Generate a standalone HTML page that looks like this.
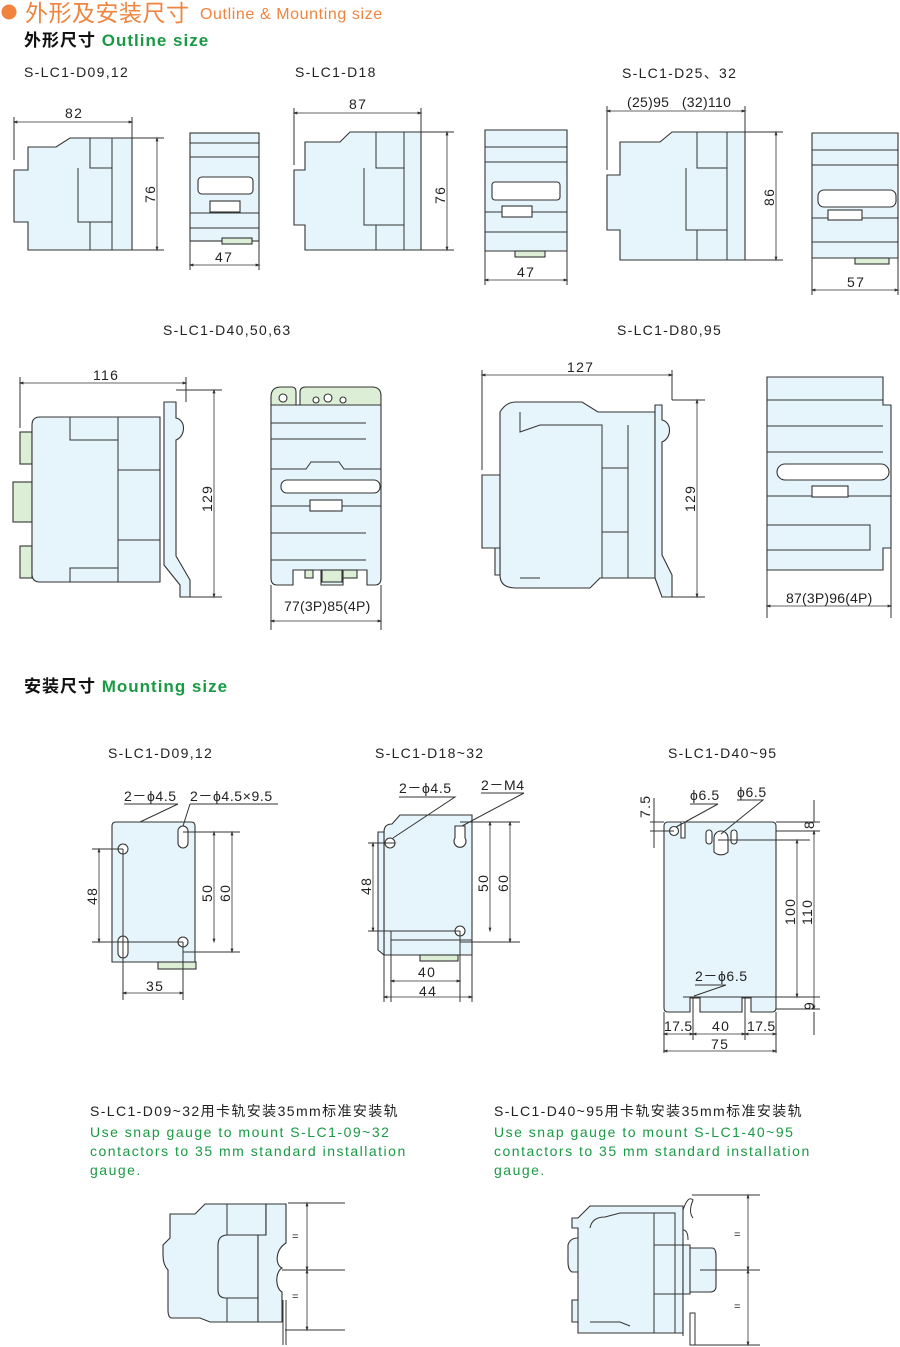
<!DOCTYPE html>
<html><head><meta charset="utf-8"><style>
html,body{margin:0;padding:0;background:#fff;width:900px;height:1347px;overflow:hidden}
svg{display:block}
text{font-family:"Liberation Sans","Noto Sans CJK SC",sans-serif;fill:#222}
.b{fill:#e6f5fc;stroke:#333;stroke-width:1.1}
.g{fill:#dcefd6;stroke:#333;stroke-width:1.1}
.w{fill:#fff;stroke:#333;stroke-width:1.1}
.l{fill:none;stroke:#333;stroke-width:1}
.d{fill:none;stroke:#333;stroke-width:0.8;marker-start:url(#a);marker-end:url(#a)}
.t{font-size:14px;letter-spacing:1.3px}
.p{font-size:14px;fill:#1a9a45;letter-spacing:1.5px}
</style></head><body>
<svg width="900" height="1347" viewBox="0 0 900 1347">
<defs><marker id="a" viewBox="0 0 10 10" refX="5" refY="5" markerWidth="6" markerHeight="6" orient="auto-start-reverse"><path d="M0,2 L10,5 L0,8 z" fill="#333"/></marker></defs>
<circle cx="9" cy="12" r="7.5" fill="#f0843e"/>
<text x="25" y="21" font-size="23" style="fill:#f0843e;letter-spacing:0.5px">外形及安装尺寸</text>
<text x="200" y="19" font-size="16" style="fill:#f0843e;letter-spacing:0.6px">Outline &amp; Mounting size</text>
<text x="24" y="46" font-size="17" font-weight="bold" style="fill:#111;letter-spacing:1px">外形尺寸 <tspan style="fill:#1a9a45">Outline size</tspan></text>
<text x="24" y="77" class="t">S-LC1-D09,12</text>
<text x="295" y="77" class="t">S-LC1-D18</text>
<text x="622" y="78" class="t">S-LC1-D25、32</text>
<text x="163" y="335" class="t">S-LC1-D40,50,63</text>
<text x="617" y="335" class="t">S-LC1-D80,95</text>

<!-- D09 side -->
<path class="b" d="M14,170 L28,170 L28,147 L56,147 L70,138 L132,138 L132,250 L28,250 L28,222 L14,222 Z"/>
<path class="l" d="M90,138 V168 H112 V138 M78,168 V222 H112 V250 M90,250 V222 M112,168 V222"/>
<line class="l" x1="14" y1="117" x2="14" y2="160"/><line class="l" x1="132" y1="117" x2="132" y2="138"/>
<line class="d" x1="15" y1="122" x2="131" y2="122"/><text x="65" y="118" class="t">82</text>
<line class="l" x1="132" y1="138" x2="164" y2="138"/><line class="l" x1="132" y1="250" x2="164" y2="250"/>
<line class="d" x1="157" y1="139" x2="157" y2="249"/><text x="155" y="203" class="t" transform="rotate(-90 155 203)">76</text>
<!-- D09 front -->
<rect class="b" x="190" y="133" width="69" height="108"/>
<path class="l" d="M190,143 H259 M190,157 H259 M190,228 H259 M190,213 H259"/>
<rect class="w" x="198" y="177" width="55" height="17" rx="4"/><rect class="w" x="210" y="201" width="30" height="11"/>
<rect class="g" x="222" y="238" width="30" height="6"/>
<line class="l" x1="190" y1="241" x2="190" y2="270"/><line class="l" x1="259" y1="241" x2="259" y2="270"/>
<line class="d" x1="191" y1="265" x2="258" y2="265"/><text x="215" y="262" class="t">47</text>

<!-- D18 side -->
<path class="b" d="M294,170 L305,170 L305,142 L340,142 L350,132 L421,132 L421,250 L305,250 L305,225 L294,225 Z"/>
<path class="l" d="M376,132 V168 H404 V132 M364,168 V225 H404 V250 M376,250 V225 M404,168 V225"/>
<line class="l" x1="294" y1="108" x2="294" y2="165"/><line class="l" x1="421" y1="108" x2="421" y2="132"/>
<line class="d" x1="295" y1="113" x2="420" y2="113"/><text x="349" y="109" class="t">87</text>
<line class="l" x1="421" y1="132" x2="454" y2="132"/><line class="l" x1="421" y1="250" x2="454" y2="250"/>
<line class="d" x1="447" y1="133" x2="447" y2="249"/><text x="445" y="204" class="t" transform="rotate(-90 445 204)">76</text>
<!-- D18 front -->
<path class="b" d="M485,130 H567 V251 H485 Z"/>
<path class="l" d="M485,147 H567 M485,162 H567 M485,232 H567 M485,212 H567"/>
<rect class="w" x="492" y="182" width="68" height="18" rx="3"/><rect class="w" x="502" y="206" width="30" height="11"/>
<rect class="g" x="515" y="251" width="30" height="6"/>
<line class="l" x1="485" y1="251" x2="485" y2="285"/><line class="l" x1="567" y1="251" x2="567" y2="285"/>
<line class="d" x1="486" y1="280" x2="566" y2="280"/><text x="517" y="277" class="t">47</text>

<!-- D25 side -->
<path class="b" d="M607,175 L620,175 L620,142 L660,142 L672,132 L745,132 L745,260 L620,260 L620,230 L607,230 Z"/>
<path class="l" d="M697,132 V168 H727 V132 M686,168 V230 H727 V260 M697,260 V230 M727,168 V230"/>
<line class="l" x1="607" y1="106" x2="607" y2="170"/><line class="l" x1="745" y1="106" x2="745" y2="132"/>
<line class="d" x1="608" y1="111" x2="744" y2="111"/><text x="627" y="107" class="t" style="letter-spacing:0.3px">(25)95&#160;&#160;&#160;(32)110</text>
<line class="l" x1="745" y1="132" x2="783" y2="132"/><line class="l" x1="745" y1="260" x2="783" y2="260"/>
<line class="d" x1="776" y1="133" x2="776" y2="259"/><text x="774" y="206" class="t" transform="rotate(-90 774 206)">86</text>
<!-- D25 front -->
<path class="b" d="M812,133 H898 V258 H812 Z"/>
<path class="l" d="M812,150 H898 M812,165 H898 M812,242 H898 M812,218 H898"/>
<rect class="w" x="818" y="190" width="78" height="17" rx="6"/><rect class="w" x="828" y="210" width="34" height="10"/>
<rect class="g" x="855" y="258" width="34" height="6"/>
<line class="l" x1="812" y1="258" x2="812" y2="295"/><line class="l" x1="898" y1="258" x2="898" y2="295"/>
<line class="d" x1="813" y1="290" x2="897" y2="290"/><text x="847" y="287" class="t">57</text>

<!-- D40 side -->
<rect class="g" x="20" y="432" width="12" height="32"/><rect class="g" x="13" y="482" width="19" height="40"/><rect class="g" x="20" y="546" width="12" height="32"/>
<path class="b" d="M32,425 Q32,417 40,417 L160,417 L160,582 L40,582 Q32,582 32,574 Z"/>
<path class="l" d="M70,417 V440 H118 V417 M118,440 V470 H160 M118,470 V540 H160 M118,540 V582 M70,582 V568 H118"/>
<path class="b" d="M164,402 L176,402 L176,418 C186,420 186,436 176,440 L176,556 L190,580 L190,597 L180,597 L180,585 L164,565 Z"/>
<line class="l" x1="20" y1="377" x2="20" y2="428"/><line class="l" x1="186" y1="377" x2="186" y2="402"/>
<line class="d" x1="21" y1="383" x2="185" y2="383"/><text x="93" y="380" class="t">116</text>
<line class="l" x1="176" y1="390" x2="222" y2="390"/><line class="l" x1="190" y1="597" x2="222" y2="597"/>
<line class="d" x1="214" y1="391" x2="214" y2="596"/><text x="212" y="512" class="t" transform="rotate(-90 212 512)">129</text>
<!-- D40 front -->
<path class="g" d="M271,397 Q271,387 281,387 L292,387 Q296,387 296,392 L296,405 L300,405 L300,392 Q300,387 306,387 L372,387 Q381,387 381,396 L381,405 L271,405 Z"/>
<circle class="w" cx="283" cy="398" r="4"/><circle class="w" cx="316" cy="400" r="3"/><circle class="w" cx="328" cy="398" r="4"/><circle class="w" cx="343" cy="400" r="3"/>
<path class="b" d="M271,405 H381 V578 Q381,585 375,585 L367,585 V570 H343 V585 H321 V570 H293 V585 H277 Q271,585 271,578 Z"/>
<path class="l" d="M271,423 H366 M271,439 H366 M271,469 H306 L311,462 H339 L344,469 H381 M271,506 H381 M271,533 H366 M271,560 H366"/>
<rect class="w" x="281" y="480" width="99" height="13" rx="6"/><rect class="w" x="310" y="500" width="32" height="11"/>
<rect class="g" x="305" y="570" width="8" height="8"/><rect class="g" x="322" y="570" width="20" height="12"/><rect class="g" x="343" y="570" width="14" height="8"/>
<line class="l" x1="271" y1="585" x2="271" y2="630"/><line class="l" x1="381" y1="585" x2="381" y2="630"/>
<line class="d" x1="272" y1="621" x2="380" y2="621"/><text x="284" y="611" class="t" style="letter-spacing:0.2px">77(3P)85(4P)</text>

<!-- D80 side -->
<path class="b" d="M482,475 H500 V548 H482 Z"/>
<path class="b" d="M500,412 Q506,402 516,402 L582,402 L598,412 L655,412 L655,578 L600,578 L590,588 L516,588 Q500,588 500,575 Z"/>
<path class="b" d="M495,548 H500 V575 H495 Z"/>
<path class="l" d="M520,412 V432 L540,425 H602 V578 M602,425 V468 H628 V425 M602,468 V532 H628 V468 M602,532 V578 M628,532 V578 M540,578 H520"/>
<path class="b" d="M655,405 L662,405 L662,420 C672,422 672,438 662,442 L662,555 L672,575 L672,597 L662,597 L655,578 Z"/>
<line class="l" x1="482" y1="370" x2="482" y2="470"/><line class="l" x1="672" y1="370" x2="672" y2="400"/>
<line class="d" x1="483" y1="375" x2="671" y2="375"/><text x="567" y="372" class="t">127</text>
<line class="l" x1="672" y1="400" x2="705" y2="400"/><line class="l" x1="672" y1="597" x2="705" y2="597"/>
<line class="d" x1="697" y1="401" x2="697" y2="596"/><text x="695" y="512" class="t" transform="rotate(-90 695 512)">129</text>
<!-- D80 front -->
<path class="b" d="M767,377 H883 V405 H891 V548 H883 V570 H767 Z"/>
<path class="l" d="M767,400 H883 M767,426 H883 M767,452 H883 M767,496 H891 M767,525 H870 V550 H767"/>
<rect class="w" x="777" y="464" width="112" height="16" rx="8"/><rect class="w" x="812" y="486" width="36" height="11"/>
<line class="l" x1="767" y1="570" x2="767" y2="618"/><line class="l" x1="891" y1="548" x2="891" y2="618"/>
<line class="d" x1="768" y1="606" x2="890" y2="606"/><text x="786" y="603" class="t" style="letter-spacing:0.2px">87(3P)96(4P)</text>

<text x="24" y="692" font-size="17" font-weight="bold" style="fill:#111;letter-spacing:1px">安装尺寸 <tspan style="fill:#1a9a45">Mounting size</tspan></text>
<text x="108" y="758" class="t">S-LC1-D09,12</text>
<text x="375" y="758" class="t">S-LC1-D18~32</text>
<text x="668" y="758" class="t">S-LC1-D40~95</text>

<!-- mount 1 -->
<path class="b" d="M112,826 Q112,822 116,822 H191 Q195,822 195,826 V962 H112 Z"/>
<rect class="g" x="158" y="962" width="38" height="7"/>
<circle class="w" cx="123" cy="849" r="5"/><circle class="w" cx="183" cy="942" r="5"/>
<rect class="w" x="178" y="826" width="10" height="22" rx="5"/><rect class="w" x="118" y="936" width="10" height="22" rx="5"/>
<path class="l" d="M92,849 H123 M92,942 H183 M183,832 H240 M183,952 H240 M123,849 V1000 M183,942 V1000"/>
<line class="d" x1="99" y1="850" x2="99" y2="941"/><text x="97" y="905" class="t" transform="rotate(-90 97 905)">48</text>
<line class="d" x1="214" y1="833" x2="214" y2="941"/><text x="212" y="902" class="t" transform="rotate(-90 212 902)">50</text>
<line class="d" x1="232" y1="833" x2="232" y2="951"/><text x="230" y="902" class="t" transform="rotate(-90 230 902)">60</text>
<line class="d" x1="124" y1="993" x2="182" y2="993"/><text x="146" y="991" class="t">35</text>
<text x="124" y="801" class="t" style="letter-spacing:0.6px">2－ϕ4.5</text><text x="190" y="801" class="t" style="letter-spacing:0.6px">2－ϕ4.5×9.5</text>
<path class="l" d="M124,804 H178 L140,822 M190,804 H278 M190,804 L183,826"/>

<!-- mount 2 -->
<path class="b" d="M384,832 Q384,824 392,824 L400,815 H472 V955 H384 Z"/>
<path class="b" d="M378,832 H384 V955 L378,950 Z"/>
<rect class="g" x="420" y="955" width="38" height="6"/>
<circle class="w" cx="390" cy="843" r="5"/><circle class="w" cx="460" cy="931" r="5"/>
<path class="w" d="M455,826 H465 V838 A6,6 0 1 1 455,838 Z"/>
<path class="l" d="M368,843 H395 M368,931 H460 M460,822 H520 M460,942 H520 M391,931 V1002 M460,931 V1002 M391,940 H472"/>
<line class="d" x1="373" y1="844" x2="373" y2="930"/><text x="371" y="895" class="t" transform="rotate(-90 371 895)">48</text>
<line class="d" x1="490" y1="823" x2="490" y2="930"/><text x="488" y="892" class="t" transform="rotate(-90 488 892)">50</text>
<line class="d" x1="510" y1="823" x2="510" y2="941"/><text x="508" y="892" class="t" transform="rotate(-90 508 892)">60</text>
<line class="d" x1="392" y1="981" x2="459" y2="981"/><text x="418" y="977" class="t">40</text>
<line class="l" x1="384" y1="955" x2="384" y2="1002"/><line class="l" x1="472" y1="955" x2="472" y2="1002"/>
<line class="d" x1="385" y1="997" x2="471" y2="997"/><text x="419" y="996" class="t">44</text>
<text x="399" y="793" class="t" style="letter-spacing:0.6px">2－ϕ4.5</text><text x="481" y="790" class="t" style="letter-spacing:0.6px">2－M4</text>
<path class="l" d="M399,797 H455 L393,838 M481,793 H524 L462,826"/>

<!-- mount 3 -->
<path class="b" d="M664,826 Q664,822 668,822 H772 Q776,822 776,826 V1008 Q776,1012 772,1012 H751 V998 H742 V1012 H700 V998 H690 V1012 H668 Q664,1012 664,1008 Z"/>
<circle class="w" cx="674" cy="831" r="4.5"/>
<path class="w" d="M681,822 V838 H685 V822"/>
<path class="w" d="M714,838 A7,7 0 0 1 728,838 V852 A10,10 0 0 1 714,852 Z"/>
<rect class="w" x="706" y="830" width="6" height="14" rx="3"/><rect class="w" x="731" y="830" width="6" height="14" rx="3"/>
<path class="l" d="M718,840 H810 M650,831 H674 M650,822 H664 M776,822 H820 M776,831 H820 M683,997 H800 M745,997 H820 M776,1009 H820 M664,1012 V1053 M776,1012 V1053 M693,998 V1040 M745,998 V1040"/>
<line class="l" x1="654" y1="798" x2="654" y2="848"/>
<text x="650" y="818" class="t" transform="rotate(-90 650 818)">7.5</text>
<line class="d" x1="797" y1="841" x2="797" y2="996"/><text x="795" y="925" class="t" transform="rotate(-90 795 925)">100</text>
<line class="d" x1="814" y1="832" x2="814" y2="1008"/><text x="812" y="925" class="t" transform="rotate(-90 812 925)">110</text>
<line class="l" x1="814" y1="800" x2="814" y2="822"/><line class="l" x1="814" y1="1012" x2="814" y2="1035"/>
<text x="814" y="829" class="t" transform="rotate(-90 814 829)" font-size="12">8</text>
<text x="814" y="1010" class="t" transform="rotate(-90 814 1010)" font-size="12">9</text>
<line class="d" x1="665" y1="1034" x2="692" y2="1034"/><line class="d" x1="694" y1="1034" x2="744" y2="1034"/><line class="d" x1="746" y1="1034" x2="775" y2="1034"/>
<text x="664" y="1031" class="t" style="letter-spacing:0.3px">17.5</text><text x="712" y="1031" class="t">40</text><text x="747" y="1031" class="t" style="letter-spacing:0.3px">17.5</text>
<line class="d" x1="665" y1="1051" x2="775" y2="1051"/><text x="711" y="1049" class="t">75</text>
<text x="690" y="800" class="t" style="letter-spacing:0.6px">ϕ6.5</text><text x="737" y="797" class="t" style="letter-spacing:0.6px">ϕ6.5</text><text x="695" y="981" class="t" style="letter-spacing:0.6px">2－ϕ6.5</text>
<path class="l" d="M690,804 H718 L676,827 M737,800 H763 L721,834 M695,985 H726 L694,996"/>

<text x="90" y="1116" class="t" style="letter-spacing:1.4px">S-LC1-D09~32用卡轨安装35mm标准安装轨</text>
<text x="90" y="1137" class="p">Use snap gauge to mount  S-LC1-09~32</text>
<text x="90" y="1156" class="p">contactors to 35 mm standard installation</text>
<text x="90" y="1175" class="p">gauge.</text>
<text x="494" y="1116" class="t" style="letter-spacing:1.4px">S-LC1-D40~95用卡轨安装35mm标准安装轨</text>
<text x="494" y="1137" class="p">Use snap gauge to mount  S-LC1-40~95</text>
<text x="494" y="1156" class="p">contactors to 35 mm standard installation</text>
<text x="494" y="1175" class="p">gauge.</text>

<!-- bottom left -->
<path class="b" d="M170,1214 H195 L205,1204 H266 V1235 H258 L258,1322 H210 L200,1318 H172 Q168,1318 168,1310 V1270 Q163,1265 163,1255 V1245 Q168,1240 170,1238 Z"/>
<path class="b" d="M266,1204 H268 V1235 H266 Z M228,1235 Q218,1235 218,1245 V1290 Q218,1298 226,1298 H258 V1235 Z"/>
<path class="b" d="M266,1204 H286 V1243 C275,1250 275,1265 282,1268 C275,1272 275,1288 282,1292 L282,1322 H258 V1235 H266 Z"/>
<path class="l" d="M227,1204 V1235 H255 M227,1298 V1322 M282,1270 H345 M283,1300 V1345 M286,1300 V1345 M288,1203 H345 M285,1330 H345"/>
<line class="d" x1="307" y1="1204" x2="307" y2="1269"/><line class="d" x1="307" y1="1271" x2="307" y2="1329"/>
<text x="292" y="1240" font-size="11">=</text><text x="292" y="1300" font-size="11">=</text>
<!-- bottom right -->
<path class="b" d="M572,1218 H578 L590,1206 H683 V1333 H578 V1322 H572 V1300 H578 V1272 H572 Q568,1270 568,1262 V1245 Q570,1238 578,1238 V1228 H572 Z"/>
<path class="l" d="M578,1228 V1322 M605,1217 L620,1213 H675 V1333 M654,1213 V1333 M654,1245 H683 M654,1294 H683 M605,1217 Q592,1217 590,1228 M590,1322 H620 L630,1326"/>
<path class="b" d="M683,1245 H690 V1294 H683 Z M690,1248 H712 Q716,1248 716,1256 V1286 Q716,1292 710,1292 H690 Z"/>
<path class="l" d="M683,1210 Q688,1195 693,1200 Q688,1212 693,1218 M683,1230 Q688,1230 688,1240 M683,1300 V1336 M690,1313 H695 V1345 H690 Z"/>
<line class="l" x1="692" y1="1195" x2="760" y2="1195"/><line class="l" x1="700" y1="1270" x2="760" y2="1270"/><line class="l" x1="695" y1="1345" x2="760" y2="1345"/>
<line class="d" x1="748" y1="1196" x2="748" y2="1269"/><line class="d" x1="748" y1="1271" x2="748" y2="1344"/>
<text x="734" y="1238" font-size="11">=</text><text x="734" y="1310" font-size="11">=</text>
</svg>
</body></html>
